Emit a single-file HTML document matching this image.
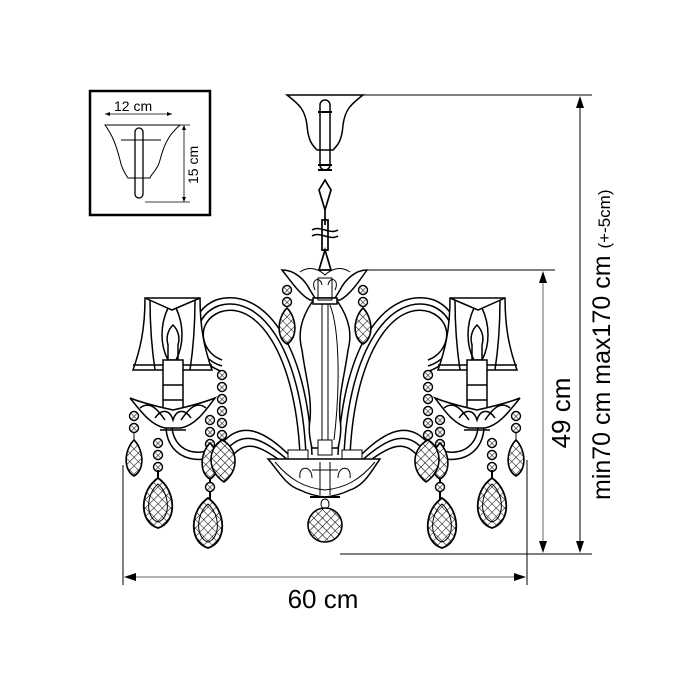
<!DOCTYPE html>
<html><head><meta charset="utf-8"><style>
html,body{margin:0;padding:0;background:#fff;}
svg{display:block;}
text{font-family:"Liberation Sans",sans-serif;fill:#000;}
</style></head><body>
<svg width="700" height="700" viewBox="0 0 700 700" xmlns="http://www.w3.org/2000/svg">
<defs>
<pattern id="hatch" width="6" height="6" patternUnits="userSpaceOnUse" patternTransform="rotate(45)">
<rect width="6" height="6" fill="#fff"/>
<path d="M0 0H6M0 0V6" stroke="#000" stroke-width="1.1"/>
</pattern>
<g id="dropS"><path d="M0 0 C-10 10 -11 30 0 36 C11 30 10 10 0 0Z" fill="url(#hatch)" stroke="#000" stroke-width="1.6"/></g>
<g id="dropL"><path d="M0 0 C-18 12 -20 44 0 50 C20 44 18 12 0 0Z" fill="url(#hatch)" stroke="#000" stroke-width="1.8"/><path d="M0 6 C-12 16 -13 40 0 44 C13 40 12 16 0 6Z" fill="none" stroke="#000" stroke-width="1"/></g>
<g id="bead"><circle r="4.5" fill="url(#hatch)" stroke="#000" stroke-width="1.4"/></g>
<g id="side" fill="none" stroke="#000" stroke-width="1.5">
 <path d="M300 455 C295 350 255 300 220 312 C195 322 200 352 222 360"/>
 <path d="M306 455 C301 345 258 293 218 306 C188 318 193 358 222 366"/>
 <path d="M312 455 C307 340 262 286 216 300 C182 314 188 362 224 372"/>
 <path d="M292 458 C260 425 240 425 225 440 C205 460 175 455 172 428"/>
 <path d="M292 464 C258 432 242 434 228 448 C205 468 168 462 166 428"/>
 <path d="M292 470 C256 440 245 442 232 456"/>
 <path d="M145 298 H200 C200 330 205 350 212 370 H133 C140 350 145 330 145 298Z" fill="#fff"/>
 <path d="M145 298 L172 310 L200 298 M168 308 C160 325 160 345 168 360 M176 308 C184 325 184 345 176 360"/>
 <path d="M150 300 C150 330 152 350 155 370 M195 300 C195 330 193 350 190 370"/>
 <path d="M133 365 H212"/>
 <path d="M168 345 C165 335 170 328 173 325 C176 328 181 335 178 345 V360 H168Z"/>
 <rect x="163" y="360" width="20" height="65" fill="#fff"/>
 <path d="M163 385 H183 M163 400 H183"/>
 <path d="M130 398 C140 410 150 425 165 428 H181 C196 425 206 410 215 398 C205 402 195 405 173 410 C150 405 140 402 130 398Z" fill="#fff"/>
 <path d="M140 408 C150 400 158 410 165 420 M206 408 C196 400 188 410 181 420 M155 418 C162 408 170 410 173 420 C176 410 184 408 191 418"/>
 <path d="M160 430 H186"/>
</g>
<g id="pend">
 <use href="#bead" x="134" y="416"/><use href="#bead" x="134" y="428"/>
 <line x1="134" y1="432" x2="134" y2="443" stroke="#000"/>
 <use href="#dropS" x="134" y="440"/>
 <use href="#bead" x="158" y="443"/><use href="#bead" x="158" y="455"/><use href="#bead" x="158" y="467"/>
 <line x1="158" y1="470" x2="158" y2="480" stroke="#000" stroke-width="2"/>
 <use href="#dropL" x="158" y="478"/>
 <use href="#bead" x="210" y="420"/><use href="#bead" x="210" y="432"/><use href="#bead" x="210" y="444"/>
 <line x1="210" y1="447" x2="210" y2="505" stroke="#000" stroke-width="2"/>
 <use href="#dropS" x="210" y="443"/>
 <use href="#bead" x="210" y="487"/>
 <use href="#dropL" x="208" y="498"/>
 <use href="#bead" x="222" y="375"/><use href="#bead" x="222" y="387"/><use href="#bead" x="222" y="399"/><use href="#bead" x="222" y="411"/><use href="#bead" x="222" y="423"/><use href="#bead" x="222" y="435"/>
 <path d="M222 440 C208 448 206 470 224 482 C240 470 238 448 222 440Z" fill="url(#hatch)" stroke="#000" stroke-width="1.6"/>
 <use href="#bead" x="287" y="290"/><use href="#bead" x="287" y="302"/>
 <use href="#dropS" x="287" y="308"/>
</g>
</defs>

<!-- inset -->
<rect x="90" y="91" width="120" height="124" fill="none" stroke="#000" stroke-width="2.5"/>
<text x="114" y="111" font-size="14">12 cm</text>
<line x1="105" y1="114" x2="172" y2="114" stroke="#000" stroke-width="0.8"/>
<path d="M105 114 l5 -2 v4z M172 114 l-5 -2 v4z"/>
<path d="M105 125 H180 C172 132 165 140 160 160 C158 170 150 175 150 178 H128 C126 175 122 170 120 160 C115 140 110 132 105 125Z" fill="none" stroke="#000"/>
<rect x="135" y="128" width="8" height="70" rx="4" fill="none" stroke="#000" stroke-width="1.3"/>
<line x1="121" y1="140" x2="161" y2="140" stroke="#000"/>
<line x1="145" y1="125" x2="190" y2="125" stroke="#000" stroke-width="0.7"/>
<line x1="145" y1="202" x2="190" y2="202" stroke="#000" stroke-width="0.7"/>
<line x1="184" y1="125" x2="184" y2="202" stroke="#000" stroke-width="0.8"/>
<path d="M184 125 l-2 5 h4z M184 202 l-2 -5 h4z"/>
<text transform="translate(198,184) rotate(-90)" font-size="14">15 cm</text>

<!-- canopy & chain -->
<path d="M287 95 H363 C350 105 345 110 343 125 C342 140 338 145 333 150 H317 C312 145 308 140 307 125 C305 110 300 105 287 95Z" fill="none" stroke="#000" stroke-width="1.5"/>
<rect x="320" y="100" width="10" height="70" rx="5" fill="none" stroke="#000" stroke-width="1.5"/>
<path d="M318 112 H332 M318 165 H332 M318 170 H332" stroke="#000" stroke-width="2"/>
<path d="M325 180 l-6 10 l6 20 l6 -20z M325 210 v15" fill="none" stroke="#000" stroke-width="1.7"/>
<path d="M312 230 C320 225 330 235 338 230 M312 236 C320 231 330 241 338 236" fill="none" stroke="#000" stroke-width="1.5"/>
<path d="M322 220 h6 v30 h-6z M325 250 l-6 20 h12z" fill="none" stroke="#000" stroke-width="1.7"/>

<use href="#side"/>
<use href="#side" transform="translate(650,0) scale(-1,1)"/>

<path d="M312 302 C300 320 298 335 302 350 C306 380 312 395 310 420 C308 430 310 440 312 448 H338 C340 440 342 430 340 420 C338 395 344 380 348 350 C352 335 350 320 338 302Z" fill="#fff" stroke="#000" stroke-width="1.5"/>
<path d="M322 300 V448 M328 300 V448 M330 305 C340 330 340 390 334 440" fill="none" stroke="#000" stroke-width="1"/>
<path d="M322 300 V448" stroke="#000" stroke-dasharray="8 3"/>
<path d="M282 270 C295 270 305 280 310 290 L315 298 H335 L340 290 C345 280 355 270 367 270 C360 280 350 295 340 300 H310 C300 295 290 280 282 270Z" fill="#fff" stroke="#000" stroke-width="1.5"/>
<path d="M300 272 C310 265 320 270 325 275 C330 270 340 265 350 272 M315 290 C310 280 320 275 322 285 M335 290 C340 280 330 275 328 285" fill="none" stroke="#000"/>
<rect x="313" y="298" width="24" height="6" fill="#fff" stroke="#000" stroke-width="1.5"/>
<rect x="318" y="278" width="14" height="22" fill="none" stroke="#000"/>

<rect x="288" y="450" width="20" height="12" fill="#fff" stroke="#000"/>
<rect x="342" y="450" width="20" height="12" fill="#fff" stroke="#000"/>
<rect x="318" y="440" width="14" height="15" fill="#fff" stroke="#000"/>
<path d="M268 459 H380 C372 470 365 485 350 490 C342 494 335 496 325 497 C315 496 308 494 300 490 C285 485 278 470 268 459Z" fill="#fff" stroke="#000" stroke-width="1.5"/>
<path d="M275 462 C290 480 305 488 325 490 C345 488 360 480 375 462 M300 478 C298 465 312 465 312 478 M350 478 C352 465 338 465 338 478" fill="none" stroke="#000"/>
<path d="M320 462 V495 M330 462 V495 M312 470 H338" stroke="#000"/>
<path d="M310 497 H340" stroke="#000" stroke-width="2"/>
<ellipse cx="325" cy="504" rx="4" ry="5" fill="none" stroke="#000"/>
<line x1="325" y1="509" x2="325" y2="517" stroke="#000" stroke-width="2"/>
<circle cx="325" cy="525" r="17" fill="url(#hatch)" stroke="#000" stroke-width="1.6"/>

<use href="#pend"/>
<use href="#pend" transform="translate(650,0) scale(-1,1)"/>

<g stroke="#000" stroke-width="1" fill="none">
<line x1="363" y1="95" x2="592" y2="95"/>
<line x1="367" y1="270" x2="555" y2="270"/>
<line x1="340" y1="554" x2="592" y2="554"/>
<line x1="580" y1="100" x2="580" y2="550"/>
<line x1="123" y1="465" x2="123" y2="585"/>
<line x1="527" y1="460" x2="527" y2="585"/>
</g>
<line x1="543" y1="276" x2="543" y2="548" stroke="#999" stroke-width="1.5"/>
<line x1="128" y1="577" x2="522" y2="577" stroke="#999" stroke-width="1.5"/>
<path d="M580 96 l-4 12 h8z M580 553 l-4 -12 h8z M543 271 l-4 12 h8z M543 553 l-4 -12 h8z M124 577 l12 -4 v8z M526 577 l-12 -4 v8z" fill="#000"/>
<text x="323" y="608" font-size="26" text-anchor="middle">60 cm</text>
<text transform="translate(570,413) rotate(-90)" font-size="26" text-anchor="middle">49 cm</text>
<text transform="translate(610,500) rotate(-90)" font-size="25">min70 cm  max170 cm <tspan font-size="17">(+-5cm)</tspan></text>
</svg>
</body></html>
